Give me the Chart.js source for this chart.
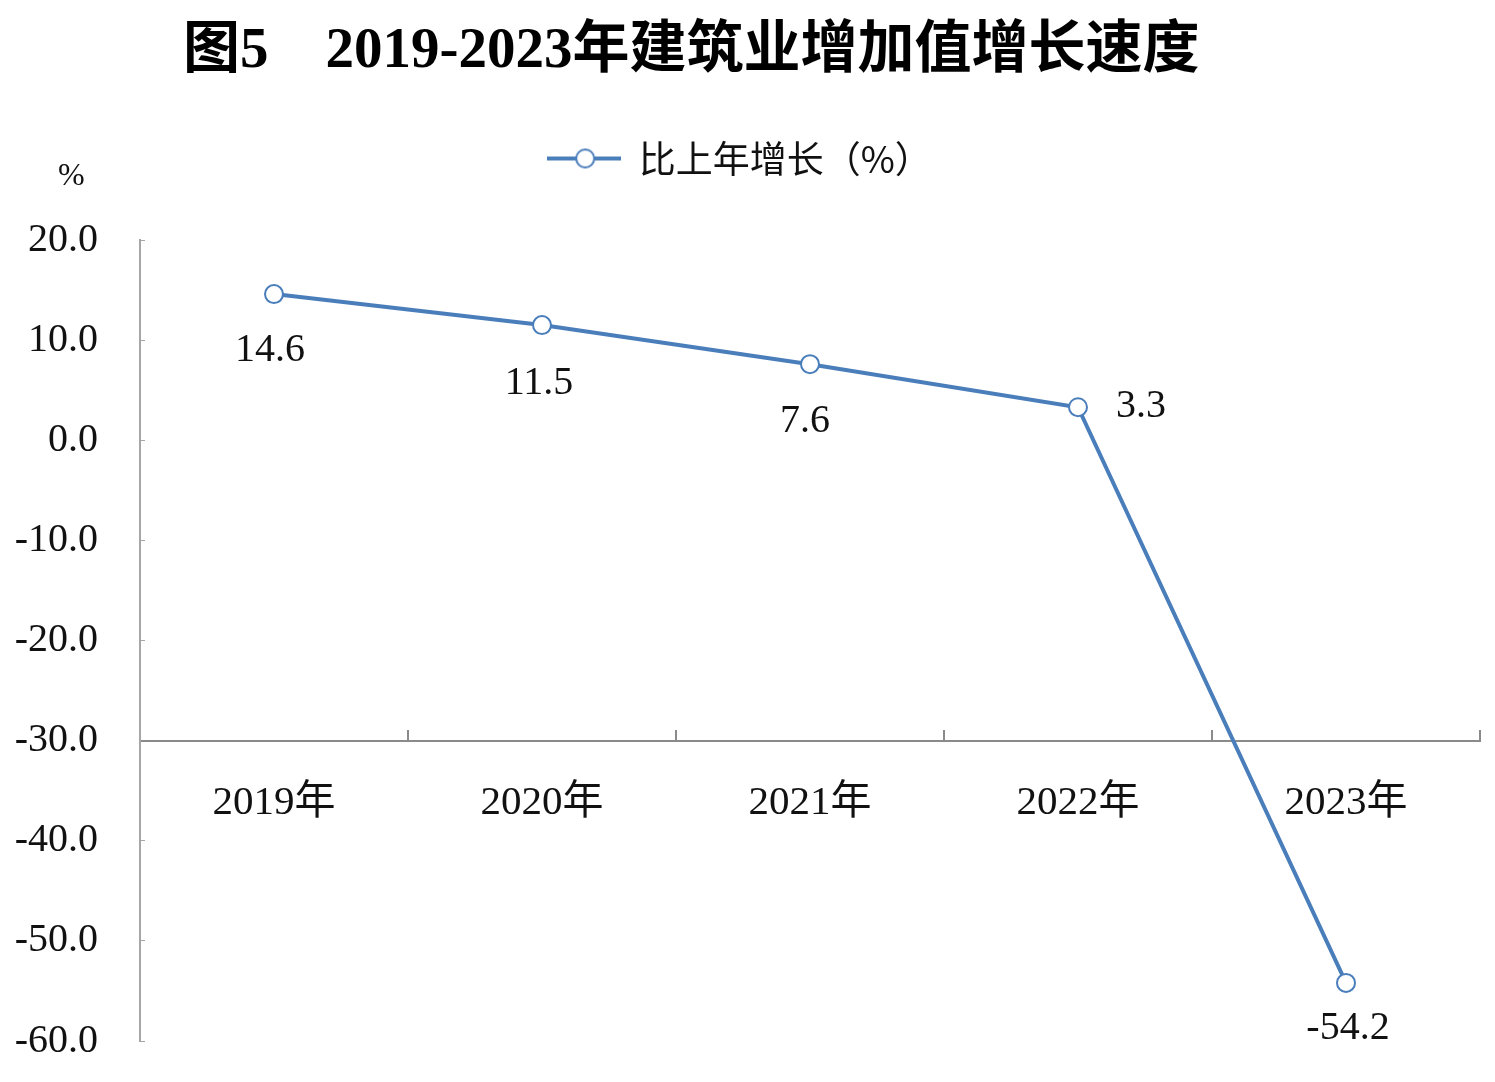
<!DOCTYPE html>
<html>
<head>
<meta charset="utf-8">
<script src="https://cdn.jsdelivr.net/npm/chart.js@4/dist/chart.umd.min.js"></script>
<style>
  html, body { margin: 0; padding: 0; background: #fff; }
  #wrap { position: relative; width: 1495px; height: 1082px; overflow: hidden; }
  #title {
    position: absolute; left: 183px; top: 19px; margin: 0;
    font: bold 57px "Liberation Serif", "Noto Sans CJK SC", serif;
    line-height: 1; color: #000; white-space: pre;
  }
  #unit {
    position: absolute; left: 58px; top: 158px;
    font: 32px "Liberation Serif", serif; line-height: 1; color: #111;
  }
  canvas { position: absolute; left: 0; top: 0; }
</style>
</head>
<body>
<div id="wrap">
  <canvas id="chart" width="1495" height="1082"></canvas>
  <div id="title">图5　2019-2023年建筑业增加值增长速度</div>
  <div id="unit">%</div>
</div>
<script>
// Data
const years = ['2019年', '2020年', '2021年', '2022年', '2023年'];
const growth = [14.6, 11.5, 7.6, 3.3, -54.2];
const seriesLabel = '比上年增长（%）';

const BLUE = '#4a7ebb';
const serif = '"Liberation Serif", "Noto Sans CJK SC", serif';

// Where each value label sits relative to its point (dx, dy)
const labelOffsets = [[-4, 56], [-3, 58], [-5, 57], [63, -1], [2, 46]];

// Empty gap between the legend and the plot area
const LEGEND_GAP = 53;

// Legend marker: short line with an open circle on it
function legendMarker() {
  const c = document.createElement('canvas');
  c.width = 74; c.height = 26;
  const ctx = c.getContext('2d');
  ctx.strokeStyle = BLUE;
  ctx.lineWidth = 4;
  ctx.beginPath();
  ctx.moveTo(0, 13); ctx.lineTo(74, 13);
  ctx.stroke();
  ctx.beginPath();
  ctx.arc(38, 13, 9, 0, Math.PI * 2);
  ctx.fillStyle = '#fff';
  ctx.fill();
  ctx.lineWidth = 2;
  ctx.stroke();
  return c;
}

// Adds a blank layout box under the legend
const legendGap = {
  id: 'legendGap',
  beforeInit(chart) {
    Chart.layouts.addBox(chart, {
      position: 'top',
      weight: 500,
      fullSize: true,
      options: {},
      top: 0, left: 0, bottom: 0, right: 0, width: 0, height: 0,
      isHorizontal() { return true; },
      update(maxWidth) {
        this.width = maxWidth;
        this.height = LEGEND_GAP;
      },
      draw() {}
    });
  }
};

const valueLabels = {
  id: 'valueLabels',
  afterDatasetsDraw(chart) {
    const ctx = chart.ctx;
    const meta = chart.getDatasetMeta(0);
    ctx.save();
    ctx.font = '40px ' + serif;
    ctx.fillStyle = '#111';
    ctx.textAlign = 'center';
    ctx.textBaseline = 'middle';
    meta.data.forEach((pt, i) => {
      const [dx, dy] = labelOffsets[i];
      ctx.fillText(growth[i].toFixed(1), pt.x + dx, pt.y + dy);
    });
    ctx.restore();
  }
};

new Chart(document.getElementById('chart'), {
  type: 'line',
  plugins: [legendGap, valueLabels],
  data: {
    labels: years,
    datasets: [{
      label: seriesLabel,
      data: growth,
      borderColor: BLUE,
      borderWidth: 4,
      backgroundColor: '#fff',
      pointBackgroundColor: '#fff',
      pointBorderColor: BLUE,
      pointBorderWidth: 2,
      pointRadius: 9,
      tension: 0,
      fill: false
    }]
  },
  options: {
    responsive: false,
    animation: false,
    layout: {
      padding: { top: 79, right: 15, bottom: 41, left: 0 }
    },
    scales: {
      x: {
        type: 'category',
        offset: true,
        position: { y: -30 },
        border: { color: '#8a8a8a', width: 2 },
        grid: {
          offset: true,
          drawOnChartArea: false,
          color: '#8a8a8a',
          lineWidth: 2,
          tickLength: -12
        },
        ticks: {
          font: { family: serif, size: 41 },
          color: '#111',
          padding: 50,
          maxRotation: 0
        }
      },
      y: {
        min: -60,
        max: 20,
        afterFit(scale) {
          // fixed axis width; tick padding should not eat vertical space
          scale.width = 140;
          scale.paddingTop = 0;
          scale.paddingBottom = 0;
        },
        border: { color: '#a6a6a6', width: 2 },
        grid: {
          drawOnChartArea: false,
          color: '#a6a6a6',
          tickLength: -5
        },
        ticks: {
          stepSize: 10,
          font: { family: serif, size: 40 },
          color: '#111',
          padding: 47,
          callback: v => v.toFixed(1)
        }
      }
    },
    plugins: {
      legend: {
        position: 'top',
        labels: {
          usePointStyle: true,
          pointStyle: legendMarker(),
          pointStyleWidth: 72,
          padding: 61,
          color: '#111',
          font: { family: '"Noto Sans CJK SC", sans-serif', size: 37 }
        }
      },
      tooltip: { enabled: false }
    }
  }
});
</script>
</body>
</html>
